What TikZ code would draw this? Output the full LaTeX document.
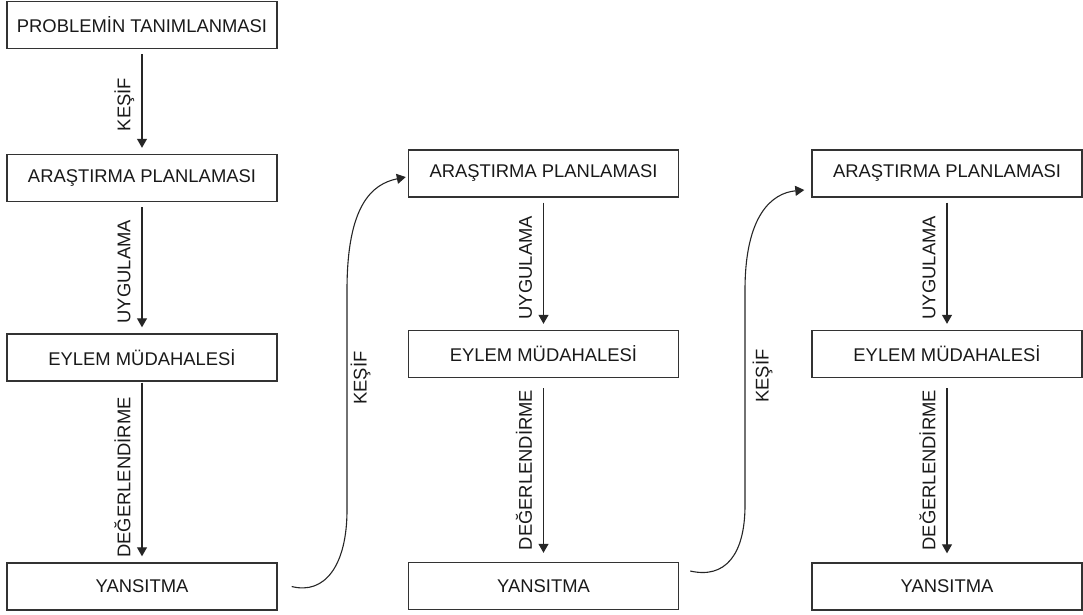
\documentclass[tikz,border=0pt]{standalone}
\usepackage{fontspec}
\setmainfont{Liberation Sans}
\usetikzlibrary{arrows.meta}

\begin{document}
\begin{tikzpicture}[x=1pt,y=-1pt,
    kutu/.style={draw=black!80, line width=1.4pt, minimum width=270pt, minimum height=47pt,
        inner sep=0pt, font=\fontsize{18.4}{20}\selectfont, text=black!90},
    ok/.style={draw=black!85, line width=1.1pt, -{Triangle[length=9pt,width=10pt]},
        shorten <=5pt, shorten >=6pt},
    egri/.style={draw=black!85, line width=1.1pt, -{Triangle[length=9pt,width=10pt]}},
    etiket/.style={rotate=90, anchor=south, text depth=0pt, inner ysep=11pt,
        font=\fontsize{18.4}{20}\selectfont, text=black!90},
    egrietiket/.style={rotate=90, anchor=north, text height=13pt, text depth=0pt,
        inner ysep=6pt, font=\fontsize{18.4}{20}\selectfont, text=black!90}]
        \useasboundingbox (0,0) rectangle (1083,614);

        % 1. sutun
        \node[kutu] (P1) at (142,25) {PROBLEMİN TANIMLANMASI};
        \node[kutu] (A1) at (142,178) {ARAŞTIRMA PLANLAMASI};
        \node[kutu] (E1) at (142,357.5) {EYLEM MÜDAHALESİ};
        \node[kutu] (Y1) at (142,586.5) {YANSITMA};

        % 2. sutun
        \node[kutu] (A2) at (543.5,173.5) {ARAŞTIRMA PLANLAMASI};
        \node[kutu] (E2) at (543.5,354) {EYLEM MÜDAHALESİ};
        \node[kutu] (Y2) at (543.5,586) {YANSITMA};

        % 3. sutun
        \node[kutu] (A3) at (947,173.5) {ARAŞTIRMA PLANLAMASI};
        \node[kutu] (E3) at (947,354) {EYLEM MÜDAHALESİ};
        \node[kutu] (Y3) at (947,586.5) {YANSITMA};

        % Oklar
        \draw[ok] (P1) -- node[etiket, pos=0.53] {KEŞİF} (A1);
        \draw[ok] (A1) -- node[etiket, pos=0.53] {UYGULAMA} (E1);
        \draw[ok, shorten <=1pt] (E1) -- node[etiket, pos=0.53] {DEĞERLENDİRME} (Y1);
        \draw[ok] (A2) -- node[etiket, pos=0.53] {UYGULAMA} (E2);
        \draw[ok, shorten <=10pt, shorten >=9pt] (E2) -- node[etiket, pos=0.5] {DEĞERLENDİRME} (Y2);
        \draw[ok] (A3) -- node[etiket, pos=0.53] {UYGULAMA} (E3);
        \draw[ok, shorten <=10pt, shorten >=9pt] (E3) -- node[etiket, pos=0.5] {DEĞERLENDİRME} (Y3);

        % Yeni dongu
        \draw[egri] ([xshift=14pt]Y1.east) .. controls (325,595) and (347,565) .. (347,510)
            -- node[egrietiket, pos=0.6] {KEŞİF} (347,290)
            .. controls (347,205) and (372,184) .. ([xshift=-2pt,yshift=-3.5pt]A2.west);
        \draw[egri] ([xshift=11pt,yshift=15pt]Y2.east) .. controls (725,579) and (745,555) .. (745,505)
            -- node[egrietiket, pos=0.6, inner ysep=10pt] {KEŞİF} (745,290)
            .. controls (745,215) and (772,193) .. ([xshift=-7pt,yshift=-16.5pt]A3.west);
\end{tikzpicture}
\end{document}
